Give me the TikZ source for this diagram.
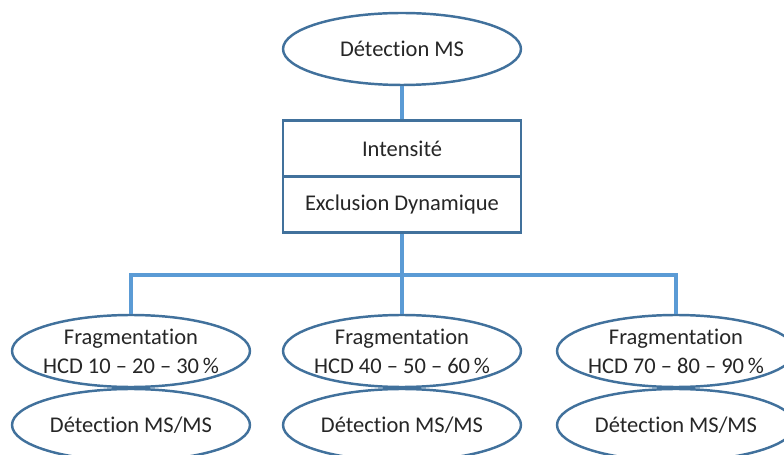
\documentclass[tikz,border=0pt]{standalone}
\usepackage{fontspec}
\setmainfont{Carlito}[Ligatures=NoCommon]
\usetikzlibrary{shapes.geometric}
\definecolor{shapeblue}{RGB}{65, 113, 156}
\definecolor{linkblue}{RGB}{91, 155, 213}
\definecolor{textgray}{RGB}{38, 38, 38}

\tikzset{
  stage/.style={ellipse, draw=shapeblue, line width=1.4pt, fill=white,
    minimum width=4.76cm, minimum height=1.44cm, inner sep=0pt,
    align=center, text=textgray, font=\fontsize{12.8}{16.5}\selectfont},
  fragstage/.style={stage, inner sep=-8pt},
  crit/.style={rectangle, draw=shapeblue, line width=1.4pt, fill=white,
    minimum width=4.76cm, minimum height=1.12cm, inner sep=0pt,
    text=textgray, font=\fontsize{12.8}{16.5}\selectfont},
  link/.style={draw=linkblue, line width=2.6pt}
}

\begin{document}
\begin{tikzpicture}[x=0.02cm, y=-0.02cm]
    \useasboundingbox (0,0) rectangle (784,455);
    \clip (0,0) rectangle (784,455);
    % connectors first
    \coordinate (bus) at (402,275);
    \node[stage] (msdet) at (402,49) {Détection MS};
    \node[crit] (intens) at (402,148.5) {Intensité};
    \node[crit] (exclu) at (402,204.5) {Exclusion Dynamique};
    \draw[link] (msdet.south) -- (intens.north);
    \draw[link] (exclu.south) -- (bus);
    \node[stage] (msmsA) at (131,425) {Détection MS/MS};
    \node[stage] (msmsB) at (402,425) {Détection MS/MS};
    \node[stage] (msmsC) at (676,425) {Détection MS/MS};
    \node[fragstage] (fragA) at (131,351) {Fragmentation\\HCD 10 – 20 – 30\,\%};
    \node[fragstage] (fragB) at (402,351) {Fragmentation\\HCD 40 – 50 – 60\,\%};
    \node[fragstage] (fragC) at (676,351) {Fragmentation\\HCD 70 – 80 – 90\,\%};
    \draw[link] (fragA.north) |- (bus) -| (fragC.north);
    \draw[link] (bus) -- (fragB.north);
    % redraw box outlines over the links
    \node[crit] at (402,148.5) {Intensité};
    \node[crit] at (402,204.5) {Exclusion Dynamique};
\end{tikzpicture}
\end{document}
